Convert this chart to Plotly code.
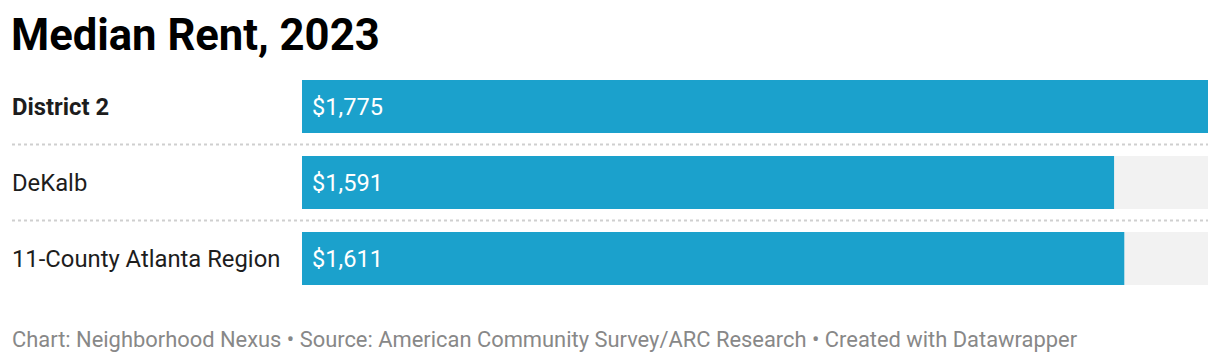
import plotly.graph_objects as go

categories = ["District 2", "DeKalb", "11-County Atlanta Region"]
values = [1775, 1591, 1611]
bold_flags = [True, False, False]
title = "Median Rent, 2023"
footer = "Chart: Neighborhood Nexus • Source: American Community Survey/ARC Research • Created with Datawrapper"

W, H = 1220, 362
vmax = max(values)
pos = list(range(len(categories)))

fig = go.Figure()
fig.add_trace(go.Bar(x=[vmax] * len(values), y=pos, orientation="h",
                     marker=dict(color="#f2f2f2", line=dict(width=0)),
                     width=0.697, hoverinfo="skip", showlegend=False))
fig.add_trace(go.Bar(x=values, y=pos, orientation="h",
                     marker=dict(color="#1ba1cc", line=dict(width=0)),
                     width=0.697, showlegend=False))

ann = []
for i, (c, v, b) in enumerate(zip(categories, values, bold_flags)):
    ann.append(dict(x=10 / W, xref="paper", y=i, yref="y", xanchor="left", yanchor="middle",
                    text=f"<b>{c}</b>" if b else c, showarrow=False,
                    font=dict(family="Roboto", size=23.8, color="#1d1d1d")))
    ann.append(dict(x=0, xref="x", y=i, yref="y", xanchor="left", yanchor="middle",
                    xshift=8, text=f"${v:,}", showarrow=False,
                    font=dict(family="Roboto", size=23.6, color="#ffffff")))
ann.append(dict(x=9 / W, xref="paper", y=1 - 36 / H, yref="paper", xanchor="left", yanchor="middle",
                text=f"<b>{title}</b>", showarrow=False,
                font=dict(family="Roboto", size=43.6, color="#000000")))
ann.append(dict(x=10 / W, xref="paper", y=1 - 339 / H, yref="paper", xanchor="left", yanchor="middle",
                text=footer, showarrow=False,
                font=dict(family="Roboto", size=21.9, color="#888888")))

shapes = []
for i in range(len(categories) - 1):
    shapes.append(dict(type="line", xref="paper", yref="y", x0=12 / W, x1=1208 / W,
                       y0=i + 0.5, y1=i + 0.5,
                       line=dict(color="#cfcfcf", width=2, dash="dot")))

fig.update_layout(
    width=W, height=H, margin=dict(l=0, r=0, t=0, b=0),
    paper_bgcolor="white", plot_bgcolor="white", barmode="overlay",
    xaxis=dict(domain=[302 / W, 1208 / W], range=[0, vmax], visible=False, fixedrange=True),
    yaxis=dict(domain=[1 - 296.5 / H, 1 - 68.5 / H], range=[2.5, -0.5], visible=False, fixedrange=True),
    annotations=ann, shapes=shapes,
)
fig.write_html("out.html")
